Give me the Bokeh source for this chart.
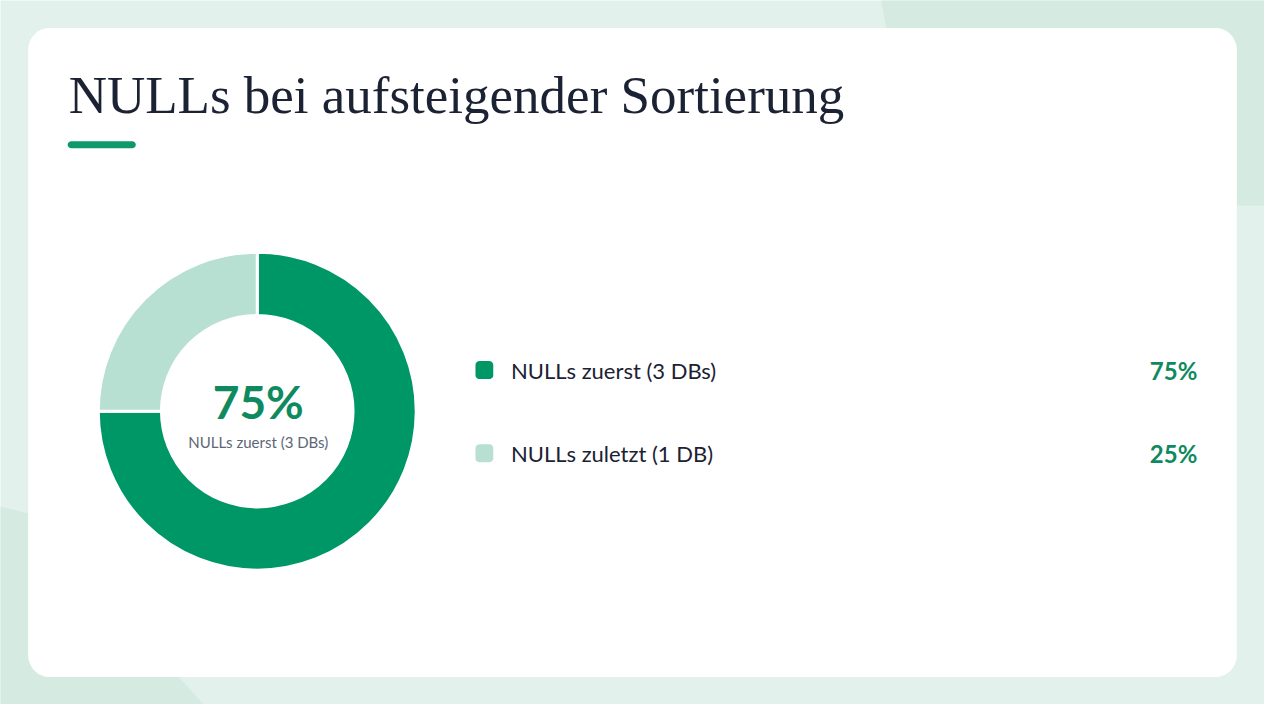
import numpy as np
from bokeh.plotting import figure
from bokeh.models import Range1d, ColumnDataSource
from bokeh.core.properties import value
from bokeh.embed import file_html
from bokeh.resources import INLINE

# data
labels = ["NULLs zuerst (3 DBs)", "NULLs zuletzt (1 DB)"]
shares = [75, 25]
colors = ["#009767", "#b7e0d2"]
title = "NULLs bei aufsteigender Sortierung"

W, H = 1264, 704
KX, KY = W / 1280, H / 720


def sx(x):
    # reference x -> figure x
    return x * KX


def sy(y):
    # reference y (top-down) -> figure y (bottom-up)
    return H - y * KY


def rounded_box(x0, y0, x1, y1, r, n=12):
    xs, ys = [], []
    corners = [(x1 - r, y1 - r, 0), (x0 + r, y1 - r, 90), (x0 + r, y0 + r, 180), (x1 - r, y0 + r, 270)]
    for cx, cy, a0 in corners:
        t = np.radians(np.linspace(a0, a0 + 90, n))
        xs += list(cx + r * np.cos(t))
        ys += list(cy + r * np.sin(t))
    return xs, ys


p = figure(width=W, height=H, x_range=Range1d(0, W), y_range=Range1d(0, H),
           output_backend="svg", toolbar_location=None, min_border=0)
p.axis.visible = False
p.grid.visible = False
p.outline_line_color = None
p.background_fill_color = "#e3f1ec"
p.border_fill_color = "#e3f1ec"

# background shapes
p.patch([sx(890), sx(1290), sx(1290), sx(930)], [sy(-10), sy(-10), sy(210), sy(210)],
        color="#d5ebe2", line_color=None)
p.patch([sx(-10), sx(30), sx(215), sx(-10)], [sy(515), sy(525), sy(730), sy(730)],
        color="#d5ebe2", line_color=None)

# card
cx, cy = rounded_box(sx(28), sy(692), sx(1252), sy(28), 22)
p.patch(cx, cy, color="white", line_color=None)

# title and accent bar
p.text([sx(69)], [sy(97)], text=[title], text_font=value("Liberation Serif"),
       text_font_size="53px", text_color="#1b2233", text_baseline="middle")
bx, by = rounded_box(sx(68), sy(151), sx(137), sy(144), 3.5, n=6)
p.patch(bx, by, color="#0f9868", line_color=None)

# donut
frac = np.array(shares) / sum(shares)
ends = np.pi / 2 - 2 * np.pi * np.cumsum(frac)
starts = np.concatenate([[np.pi / 2], ends[:-1]])
src = ColumnDataSource(dict(start=starts, end=ends, color=colors, label=labels))
p.annular_wedge(x=sx(260), y=sy(420), inner_radius=97 * KX, outer_radius=161 * KX,
                start_angle="start", end_angle="end", direction="clock",
                color="color", line_color="white", line_width=3, source=src)

p.text([sx(261)], [sy(410)], text=[f"{shares[0]}%"], text_font=value("Lato"),
       text_font_size="46px", text_font_style="bold", text_color="#0f8a5f",
       text_align="center", text_baseline="middle")
p.text([sx(261)], [sy(452)], text=[labels[0]], text_font=value("Lato"),
       text_font_size="15px", text_color="#5c6678",
       text_align="center", text_baseline="middle")

# legend rows
row_y = [sy(378), sy(463)]
for i, (lab, val, col) in enumerate(zip(labels, shares, colors)):
    mx, my = rounded_box(sx(481), row_y[i] - 9, sx(499), row_y[i] + 9, 4, n=6)
    p.patch(mx, my, color=col, line_color=None)
    p.text([sx(517)], [row_y[i]], text=[lab], text_font=value("Lato"),
           text_font_size="22px", text_color="#1b2233", text_baseline="middle")
    p.text([sx(1212)], [row_y[i]], text=[f"{val}%"], text_font=value("Lato"),
           text_font_size="24px", text_font_style="bold", text_color="#0f8a5f",
           text_align="right", text_baseline="middle")

open("out.html", "w").write(file_html(p, INLINE))
